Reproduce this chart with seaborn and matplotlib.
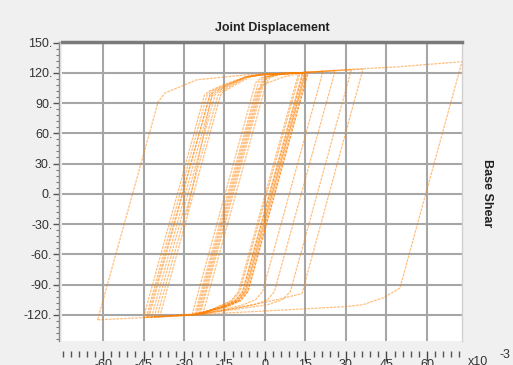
import matplotlib
matplotlib.use("Agg")
import matplotlib.pyplot as plt
from matplotlib.ticker import MultipleLocator, FixedLocator, FuncFormatter
import seaborn as sns
import pandas as pd

# ---------------- data (displacement x10^-3, base shear) ----------------
outer_x = [-62, -39.6, -37, -25.3, -6.8, 13, 29, 50, 73, 50, 44, 36.3, 30.3, 13, -15.6, -31.5, -42.6, -62]
outer_y = [-125, 91, 100, 113, 118, 120, 123, 126, 131, -93.5, -103, -110, -111.8, -114.4, -118.4, -121, -122.5, -125]

l2_x = [-43, -20.4, -18.5, -14, -7, 0, 13, 26, 36.3, 13.7, 6, -0.7, -12, -25, -43]
l2_y = [-122.5, 98, 102, 108, 116, 118.5, 120, 122, 123.5, -99, -104, -108, -114, -120, -122.5]

l3_x = [-41, -18.5, -17, -13, -7, 0, 13, 21.5, 32, 9.4, 6.5, 1, -12, -25, -41]
l3_y = [-122, 98, 102, 108, 115.5, 118, 120, 121.5, 123, -97, -105, -110, -115, -119.8, -122]

l4_x = [-44, -21.5, -20, -15, -7, 0, 13, 26, 3.5, 1, -4, -14, -25, -44]
l4_y = [-122.5, 97.5, 101.5, 107.5, 116, 118.5, 120, 122, -97, -105, -110, -115, -119.5, -122.5]

l5_x = [-40, -17.5, -16.5, -12, -6, 0, 13, 21.5, -0.9, -3.5, -8.5, -16, -25, -40]
l5_y = [-122, 97, 101, 108, 116.5, 118.5, 120, 121.5, -97, -105, -110.5, -115, -119.5, -122]

l6_x = [-45, -22.4, -20.5, -15, -7, 0, 8, 16, -6.3, -9, -14, -25, -45]
l6_y = [-122.8, 98, 102, 108.5, 116, 118.5, 119.5, 120.5, -97, -106, -111.5, -119, -122.8]

l7_x = [-42, -19.5, -18, -13.5, -7, 0, 14, -8.3, -11, -16, -25, -42]
l7_y = [-122.3, 97.5, 101.5, 108, 116, 118.5, 120, -97, -106, -112, -119.5, -122.3]

l8_x = [-39, -16.5, -15.5, -11, -5, 0, 15, -7.3, -10, -15, -25, -39]
l8_y = [-122, 97.5, 101, 108, 116.5, 118.5, 120.3, -97, -106, -112, -119.5, -122]

c1_x = [-27, -3.5, -1.5, 3, 15, -7.3, -10, -15, -27]
c1_y = [-119.8, 110, 115, 118, 120.3, -97, -106, -112, -119.8]

c2_x = [-26, -2.5, -0.5, 4, 14, -8.3, -11, -16, -26]
c2_y = [-119.6, 110, 115.5, 118.2, 120, -97, -106, -112, -119.6]

c3_x = [-25, -1.5, 0.5, 5, 16, -6.3, -9, -14, -25]
c3_y = [-119.5, 110, 116, 118.5, 120.5, -97, -106, -112, -119.5]

c4_x = [-24, -0.5, 1, 5, 13, -9.3, -12, -17, -24]
c4_y = [-119.3, 110, 115.5, 118.3, 120, -97, -106, -112, -119.3]

c5_x = [-25.5, -2.7, 0, 7, 14.5, -7.8, -10.5, -15.5, -25.5]
c5_y = [-119.6, 103, 109, 116, 120, -97, -106, -112, -119.6]

c6_x = [-23, 0.5, 2, 6, 12.5, -9.8, -12.5, -17.5, -23]
c6_y = [-119.2, 110, 115.5, 118.3, 120, -97, -106, -112, -119.2]

c7_x = [-24.5, -1, 1, 5, 15.5, -6.8, -9.5, -14.5, -24.5]
c7_y = [-119.4, 110, 115.5, 118.5, 120.5, -97, -106, -112, -119.4]

end_x = [-43.5, -20.4, -19.5, -29]
end_y = [-122.5, 98, 100, -21]

x_ticks = [-60, -45, -30, -15, 0, 15, 30, 45, 60, 75]
y_ticks = [-120, -90, -60, -30, 0, 30, 60, 90, 120, 150]

branches = [
    ("outer", outer_x, outer_y), ("l2", l2_x, l2_y), ("l3", l3_x, l3_y),
    ("l4", l4_x, l4_y), ("l5", l5_x, l5_y), ("l6", l6_x, l6_y),
    ("l7", l7_x, l7_y), ("l8", l8_x, l8_y), ("c1", c1_x, c1_y),
    ("c2", c2_x, c2_y), ("c3", c3_x, c3_y), ("c4", c4_x, c4_y),
    ("c5", c5_x, c5_y), ("c6", c6_x, c6_y), ("c7", c7_x, c7_y),
    ("end", end_x, end_y),
]
frames = []
for name, xs, ys in branches:
    frames.append(pd.DataFrame({"disp": xs, "shear": ys, "loop": name,
                                "step": range(len(xs))}))
df = pd.concat(frames, ignore_index=True)

# ---------------- style ----------------
sns.set_theme(style="white")
plt.rcParams["font.family"] = ["Liberation Sans", "DejaVu Sans"]

W, H = 513, 365
fig = plt.figure(figsize=(W / 100, H / 100), dpi=100, facecolor="#f0f0f0")
ax = fig.add_axes([62 / W, 1 - 341 / H, 400 / W, 299 / H])
ax.set_facecolor("white")

sns.lineplot(data=df, x="disp", y="shear", units="loop", estimator=None,
             sort=False, color="#ff8000", lw=0.9, alpha=0.5, ax=ax,
             legend=False, linestyle=(0, (2.2, 0.8)))

ax.set_xlim(-75.2, 73)
ax.set_ylim(-146, 150.5)

ax.xaxis.set_major_locator(FixedLocator(x_ticks))
ax.xaxis.set_minor_locator(MultipleLocator(3))
ax.yaxis.set_major_locator(FixedLocator(y_ticks))
ax.yaxis.set_minor_locator(MultipleLocator(6))
ax.xaxis.set_major_formatter(FuncFormatter(lambda v, p: f"{int(round(v))}"))
ax.yaxis.set_major_formatter(FuncFormatter(lambda v, p: f"{int(round(v))}."))

ax.grid(True, which="major", color="#a6a6a6", lw=1.5)
ax.set_axisbelow(True)

ax.spines["top"].set_color("#7a7a7a")
ax.spines["top"].set_linewidth(2.5)
ax.spines["right"].set_color("#d0d0d0")
ax.spines["right"].set_linewidth(1.0)
ax.spines["bottom"].set_position(("outward", 7))
ax.spines["bottom"].set_color("none")
ax.spines["left"].set_position(("outward", 2))
ax.spines["left"].set_color("#8c8c8c")
ax.spines["left"].set_linewidth(1.0)

ax.tick_params(axis="x", which="major", direction="out", length=7, width=1,
               color="#444444", labelsize=9, labelcolor="#333333", pad=-1,
               bottom=True)
ax.tick_params(axis="x", which="minor", direction="out", length=4, width=1,
               color="#555555", bottom=True)
ax.tick_params(axis="y", which="major", direction="out", length=4, width=1,
               color="#555555", labelsize=9, labelcolor="#333333", pad=1,
               left=True)
ax.tick_params(axis="y", which="minor", direction="out", length=2, width=0.8,
               color="#777777", left=True)

ax.set_xlabel("")
ax.set_ylabel("")

fig.text(272 / W, 1 - 28 / H, "Joint Displacement", ha="center", va="center",
         fontsize=9, fontweight="bold", color="#222222")
fig.text(487 / W, 1 - 193 / H, "Base Shear", ha="center", va="center",
         rotation=-90, fontsize=9, fontweight="bold", color="#222222")
fig.text(468 / W, 1 - 356 / H, "x10", ha="left", va="top", fontsize=9,
         color="#333333")
fig.text(499 / W, 1 - 349 / H, "-3", ha="left", va="top", fontsize=9,
         color="#333333")

fig.savefig("out.png", dpi=100, facecolor=fig.get_facecolor())
